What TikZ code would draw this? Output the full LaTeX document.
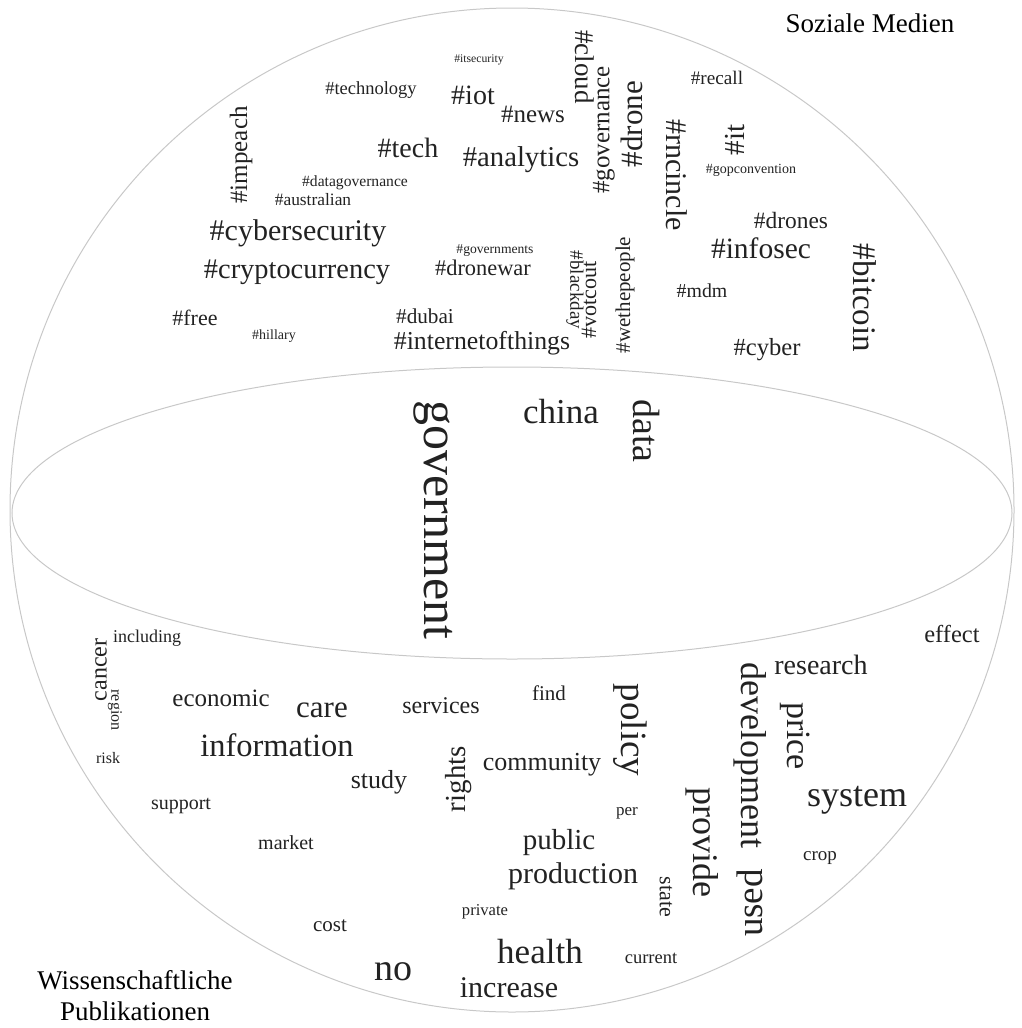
\documentclass[tikz,border=0pt]{standalone}
\usepackage{fontspec}
\setmainfont{Liberation Serif}
\definecolor{wordc}{HTML}{222222}
\definecolor{linec}{HTML}{C8C8C8}
\newcommand{\fsz}[1]{\fontsize{#1}{#1}\selectfont}
\begin{document}
\begin{tikzpicture}[x=1pt,y=-1pt,
  wd/.style={text=wordc, inner sep=0pt, font=\fsz{#1}},
  cw/.style={rotate=-90},
  ccw/.style={rotate=90},
  lbl/.style={text=black, inner sep=0pt, align=center, font=\fontsize{27}{31}\selectfont},
  rim/.style={draw=linec, line width=1pt}]
\useasboundingbox (0,0) rectangle (1021,1028);
% sphere
\draw[rim] (512,510) circle [radius=502pt];
\draw[rim] (512,513) ellipse [x radius=500pt, y radius=146pt];
% labels
\node[lbl] (soziale) at (870,23) {Soziale Medien};
\node[lbl] (wiss) at (135,996) {Wissenschaftliche\\Publikationen};
% upper cloud
\node[wd=11.7] (w1) at (479,60) {\#itsecurity};
\node[wd=18.5] (w2) at (371,90) {\#technology};
\node[wd=28] (w3) at (473,95) {\#iot};
\node[wd=25] (w4) at (533,114) {\#news};
\node[wd=28.7] (w5) at (521,160) {\#analytics};
\node[wd=27,cw] (w6) at (585,67) {\#cloud};
\node[wd=25,ccw] (w7) at (604,130) {\#governance};
\node[wd=31,ccw] (w8) at (632,124) {\#drone};
\node[wd=19.2] (w9) at (717,78) {\#recall};
\node[wd=28] (w10) at (408,148) {\#tech};
\node[wd=30,cw] (w11) at (677,175) {\#rncincle};
\node[wd=29,ccw] (w12) at (735,140) {\#it};
\node[wd=14] (w13) at (751,170) {\#gopconvention};
\node[wd=25,ccw] (w14) at (241,155) {\#impeach};
\node[wd=15.6] (w15) at (355,183) {\#datagovernance};
\node[wd=17.4] (w16) at (313,200) {\#australian};
\node[wd=30] (w17) at (298,233) {\#cybersecurity};
\node[wd=28.4] (w18) at (297,272) {\#cryptocurrency};
\node[wd=13.6] (w19) at (495,251) {\#governments};
\node[wd=22.4] (w20) at (483,268) {\#dronewar};
\node[wd=19,cw] (w21) at (575,290) {\#blackday};
\node[wd=22,ccw] (w22) at (589,300) {\#votcout};
\node[wd=21,ccw] (w23) at (625,295) {\#wethepeople};
\node[wd=23.4] (w24) at (791,220) {\#drones};
\node[wd=29.5] (w25) at (761,248) {\#infosec};
\node[wd=33,cw] (w26) at (865,298) {\#bitcoin};
\node[wd=19.8] (w27) at (702,291) {\#mdm};
\node[wd=24.6] (w28) at (767,350) {\#cyber};
\node[wd=22] (w29) at (195,318) {\#free};
\node[wd=14] (w30) at (274,336) {\#hillary};
\node[wd=21.2] (w31) at (425,316) {\#dubai};
\node[wd=25.8] (w32) at (482,343) {\#internetofthings};
% middle
\node[wd=50,cw] (w33) at (433,520) {government};
\node[wd=35] (w34) at (561,412) {china};
\node[wd=38,cw] (w35) at (646,431) {data};
% lower cloud
\node[wd=24.5] (w36) at (952,634) {effect};
\node[wd=28] (w37) at (821,665) {research};
\node[wd=36,cw] (w38) at (750,755) {development};
\node[wd=34,cw] (w39) at (795,736) {price};
\node[wd=36] (w40) at (857,800) {system};
\node[wd=19] (w41) at (820,858) {crop};
\node[wd=36,cw] (w42) at (702,842) {provide};
\node[wd=37,ccw] (w43) at (750,903) {used};
\node[wd=22,cw] (w44) at (666,897) {state};
\node[wd=17] (w45) at (627,813) {per};
\node[wd=29] (w46) at (559,843) {public};
\node[wd=30] (w47) at (573,876) {production};
\node[wd=16.6] (w48) at (485,912) {private};
\node[wd=35] (w49) at (540,952) {health};
\node[wd=18.5] (w50) at (651,958) {current};
\node[wd=30] (w51) at (509,988) {increase};
\node[wd=38] (w52) at (393,972) {no};
\node[wd=21] (w53) at (330,926) {cost};
\node[wd=20] (w54) at (286,843) {market};
\node[wd=20] (w55) at (181,806) {support};
\node[wd=16] (w56) at (108,758) {risk};
\node[wd=24,ccw] (w57) at (101,670) {cancer};
\node[wd=16,cw] (w58) at (115,710) {region};
\node[wd=18] (w59) at (147,638) {including};
\node[wd=25] (w60) at (221,698) {economic};
\node[wd=32.5] (w61) at (277,745) {information};
\node[wd=31] (w62) at (322,710) {care};
\node[wd=24] (w63) at (441,706) {services};
\node[wd=21] (w64) at (549,693) {find};
\node[wd=37,cw] (w65) at (630,730) {policy};
\node[wd=26] (w66) at (379,782) {study};
\node[wd=29,ccw] (w67) at (459,779) {rights};
\node[wd=26] (w68) at (542,765) {community};
\end{tikzpicture}
\end{document}
